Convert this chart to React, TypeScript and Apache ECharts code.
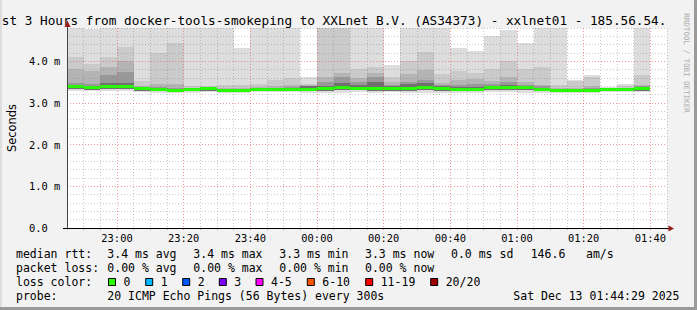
import React, { useEffect, useRef } from "react";
import * as echarts from "echarts";

// ---- data (ms) ----
const times = [
  "22:45", "22:50", "22:55", "23:00", "23:05", "23:10", "23:15", "23:20", "23:25", "23:30",
  "23:35", "23:40", "23:45", "23:50", "23:55", "00:00", "00:05", "00:10", "00:15", "00:20",
  "00:25", "00:30", "00:35", "00:40", "00:45", "00:50", "00:55", "01:00", "01:05", "01:10",
  "01:15", "01:20", "01:25", "01:30", "01:35",
];
const rttMax = [5.5, 4.78, 5.5, 5.5, 5.5, 5.5, 5.5, 5.5, 5.5, 5.5, 4.32, 5.5, 5.5, 5.5, 3.62, 5.5, 5.5, 5.5, 5.5, 3.9, 5.5, 5.5, 5.5, 4.32, 4.24, 4.61, 4.75, 4.44, 5.5, 5.5, 3.55, 3.66, 3.38, 3.46, 5.5];
const smoke2 = [4.11, 3.94, 4.11, 4.35, 3.52, 4.2, 4.44, 3.4, 3.42, 3.44, 3.44, 3.46, 3.54, 3.59, 3.46, 5.5, 5.5, 3.82, 3.86, 3.62, 4.0, 4.23, 3.7, 3.77, 3.72, 3.82, 4.0, 3.82, 3.86, 3.44, 3.53, 3.62, 3.36, 3.4, 3.66];
const smoke3 = [3.82, 3.78, 3.87, 4.02, 3.42, 3.45, 3.46, 3.37, 3.38, 3.36, 3.37, 3.38, 3.42, 3.44, 3.44, 3.62, 3.72, 3.6, 3.72, 3.5, 3.69, 3.79, 3.48, 3.54, 3.58, 3.52, 3.62, 3.5, 3.44, 3.36, 3.36, 3.4, 3.35, 3.36, 3.44];
const smoke4 = [3.47, 3.45, 3.66, 3.75, 3.39, 3.38, 3.36, 3.35, 3.36, 3.33, 3.34, 3.35, 3.37, 3.38, 3.42, 3.5, 3.62, 3.5, 3.62, 3.44, 3.51, 3.56, 3.43, 3.44, 3.45, 3.45, 3.51, 3.44, 3.4, 3.34, 3.34, 3.35, 3.34, 3.34, 3.4];
const smoke5 = [3.44, 3.41, 3.47, 3.48, 3.37, 3.35, 3.33, 3.33, 3.35, 3.31, 3.32, 3.33, 3.34, 3.35, 3.4, 3.42, 3.47, 3.44, 3.5, 3.4, 3.45, 3.48, 3.4, 3.38, 3.38, 3.41, 3.44, 3.41, 3.37, 3.32, 3.32, 3.33, 3.33, 3.33, 3.37];
const medianRtt = [3.39, 3.37, 3.4, 3.4, 3.35, 3.33, 3.31, 3.32, 3.34, 3.3, 3.31, 3.32, 3.33, 3.33, 3.33, 3.34, 3.37, 3.36, 3.35, 3.34, 3.35, 3.37, 3.36, 3.32, 3.32, 3.37, 3.37, 3.37, 3.33, 3.3, 3.3, 3.3, 3.32, 3.32, 3.35];
const smokeLowInner = [3.33, 3.32, 3.34, 3.34, 3.3, 3.29, 3.28, 3.29, 3.3, 3.27, 3.28, 3.29, 3.29, 3.29, 3.29, 3.29, 3.31, 3.31, 3.3, 3.29, 3.3, 3.31, 3.3, 3.28, 3.28, 3.31, 3.31, 3.31, 3.28, 3.27, 3.27, 3.27, 3.29, 3.29, 3.3];
const rttMin = [3.28, 3.29, 3.28, 3.29, 3.27, 3.24, 3.23, 3.25, 3.26, 3.24, 3.25, 3.26, 3.26, 3.26, 3.25, 3.24, 3.25, 3.26, 3.25, 3.26, 3.24, 3.25, 3.25, 3.23, 3.23, 3.26, 3.26, 3.25, 3.24, 3.24, 3.25, 3.25, 3.27, 3.27, 3.26];
const stepMinutes = 5;

const titleText = "st 3 Hours from docker-tools-smokeping to XXLnet B.V. (AS34373) - xxlnet01 - 185.56.54.";
const yTickLabels = ["0.0", "1.0 m", "2.0 m", "3.0 m", "4.0 m"];
const medianStats = ["median rtt:", "3.4 ms avg", "3.4 ms max", "3.3 ms min", "3.3 ms now", "0.0 ms sd", "146.6", "am/s"];
const lossStats = ["packet loss:", "0.00 % avg", "0.00 % max", "0.00 % min", "0.00 % now"];
const lossLabels = ["0", "1", "2", "3", "4-5", "6-10", "11-19", "20/20"];
const lossColors = ["#26ff00", "#00b8ff", "#0059ff", "#7e00ff", "#ff00ff", "#ff5500", "#ff0000", "#a10000"];
const probeText = ["probe:", "20 ICMP Echo Pings (56 Bytes) every 300s", "Sat Dec 13 01:44:29 2025"];

// ---- layout / style ----
const MONO = "DejaVu Sans Mono";
const statX = [16, 107.3, 193.3, 279.3, 365, 451, 530.7, 586];
const boxX = [108.5, 145.7, 182.7, 219.3, 256, 307.3, 365.7, 430.7];
const rowY = [254.3, 268.3, 282.3, 296.3];
const bandColors = ["#dddddd", "#cacaca", "#b4b4b4", "#999999", "#707070"];

const toMin = (t: string) => {
  const [h, m] = t.split(":").map(Number);
  return (h >= 12 ? h - 22 : h + 2) * 60 + m; // minutes since 22:00
};
const fmtMin = (v: number) => {
  const h = (22 + Math.floor(v / 60)) % 24;
  const m = v % 60;
  return String(h).padStart(2, "0") + ":" + String(m).padStart(2, "0");
};

export default function App() {
  const ref = useRef<HTMLDivElement>(null);
  useEffect(() => {
    if (!ref.current) return;
    const chart = echarts.init(ref.current, undefined, { renderer: "svg" });
    const data = times.map((t, i) => [
      toMin(t), toMin(t) + stepMinutes,
      rttMin[i], smokeLowInner[i],
      rttMax[i], smoke2[i], smoke3[i], smoke4[i], smoke5[i],
      medianRtt[i],
    ]);

    const texts: any[] = [];
    const mk = (text: string, x: number, y: number, extra: any = {}) => ({
      type: "text", x, y, z: 20,
      style: { text, fontFamily: MONO, fontSize: 11.5, fill: "#000", align: "left", verticalAlign: "middle", ...extra },
    });
    medianStats.forEach((s, i) => texts.push(mk(s, statX[i], rowY[0])));
    lossStats.forEach((s, i) => texts.push(mk(s, statX[i], rowY[1])));
    texts.push(mk("loss color:", statX[0], rowY[2]));
    lossLabels.forEach((s, i) => {
      texts.push({
        type: "rect", z: 20,
        shape: { x: boxX[i], y: rowY[2] - 3.8, width: 7, height: 7 },
        style: { fill: lossColors[i], stroke: "#000", lineWidth: 1 },
      });
      texts.push(mk(s, boxX[i] + 15, rowY[2]));
    });
    texts.push(mk(probeText[0], statX[0], rowY[3]));
    texts.push(mk(probeText[1], statX[1], rowY[3]));
    texts.push(mk(probeText[2], 513.3, rowY[3]));

    chart.setOption({
      animation: false,
      backgroundColor: "#f2f2f2",
      grid: {
        left: 67, top: 28, width: 600, height: 200, show: true, backgroundColor: "#ffffff", borderWidth: 0,
        containLabel: false, outerBoundsMode: "none",
      },
      xAxis: {
        type: "value", min: 45, max: 225, interval: 5, z: 5,
        axisLine: { show: false },
        axisTick: { show: true, length: 2, lineStyle: { color: "rgba(190,120,120,0.7)" } },
        axisLabel: {
          margin: 5, fontFamily: MONO, fontSize: 10.4, color: "#000",
          formatter: (v: number) => (v % 20 === 0 ? fmtMin(v) : ""),
        },
        splitLine: {
          show: true,
          lineStyle: {
            type: [1, 2], width: 1,
            color: ["rgba(120,120,120,0.4)", "rgba(120,120,120,0.4)", "rgba(120,120,120,0.4)", "rgba(235,70,70,0.55)"],
          },
        },
      },
      yAxis: {
        type: "value", min: 0, max: 4.8, interval: 0.2, z: 5,
        name: "Seconds", nameLocation: "middle", nameGap: 50, nameRotate: 90,
        nameTextStyle: { fontFamily: "DejaVu Sans", fontSize: 11.4, color: "#000" },
        axisLine: { show: false },
        axisTick: { show: false },
        axisLabel: {
          margin: 38, align: "left", fontFamily: MONO, fontSize: 10.4, color: "#000",
          formatter: (v: number) => {
            const r = Math.round(v);
            return Math.abs(v - r) < 1e-6 && r < yTickLabels.length ? yTickLabels[r] : "";
          },
        },
        splitLine: {
          show: true,
          lineStyle: {
            type: [1, 2], width: 1,
            color: ["rgba(235,70,70,0.55)", "rgba(120,120,120,0.4)", "rgba(120,120,120,0.4)", "rgba(120,120,120,0.4)", "rgba(120,120,120,0.4)"],
          },
        },
      },
      series: [
        {
          type: "custom", clip: true, z: 2,
          data,
          encode: { x: [0, 1], y: [2, 4] },
          renderItem: (params: any, api: any) => {
            const x0 = api.value(0), x1 = api.value(1);
            const children: any[] = [];
            for (let k = 0; k < 5; k++) {
              const hi = api.value(4 + k);
              const lo = k === 0 ? api.value(2) : api.value(3);
              const p0 = api.coord([x0, hi]);
              const p1 = api.coord([x1, lo]);
              const xa = Math.round(p0[0]), xb = Math.round(p1[0]);
              const ya = Math.round(p0[1]), yb = Math.round(p1[1]);
              if (yb - ya <= 0) continue;
              children.push({ type: "rect", shape: { x: xa, y: ya, width: xb - xa, height: yb - ya }, style: { fill: bandColors[k] } });
            }
            const pm = api.coord([x0, api.value(9)]);
            const pe = api.coord([x1, api.value(9)]);
            const xa = Math.round(pm[0]), xb = Math.round(pe[0]);
            children.push({ type: "rect", shape: { x: xa, y: Math.round(pm[1] - 1.5), width: xb - xa, height: 3 }, style: { fill: lossColors[0] } });
            return { type: "group", children };
          },
        },
      ],
      graphic: [
        { type: "rect", z: -10, shape: { x: 0, y: 307, width: 697, height: 3 }, style: { fill: "#9a9a9a" } },
        { type: "rect", z: -10, shape: { x: 694, y: 0, width: 3, height: 310 }, style: { fill: "#9a9a9a" } },
        { type: "rect", z: -10, shape: { x: 0, y: 0, width: 2, height: 307 }, style: { fill: "#dedede" } },
        // axes
        { type: "line", z: 30, shape: { x1: 67.5, y1: 228.5, x2: 67.5, y2: 26 }, style: { stroke: "#444", lineWidth: 1 } },
        { type: "line", z: 30, shape: { x1: 63, y1: 228.5, x2: 669, y2: 228.5 }, style: { stroke: "#000", lineWidth: 1 } },
        { type: "polygon", z: 31, shape: { points: [[67.5, 20.5], [64.5, 27], [70.5, 27]] }, style: { fill: "#9b1a1a" } },
        { type: "polygon", z: 31, shape: { points: [[674, 228.5], [668.5, 225.5], [668.5, 231.5]] }, style: { fill: "#9b1a1a" } },
        // title
        {
          type: "text", x: 1.8, y: 20.5, z: 20,
          style: { text: titleText, fontFamily: MONO, fontSize: 12.7, fill: "#000", align: "left", verticalAlign: "middle" },
        },
        // watermark
        {
          type: "text", x: 686, y: 63, z: 20, rotation: -Math.PI / 2,
          style: { text: "RRDTOOL / TOBI OETIKER", fontFamily: MONO, fontSize: 7.5, fill: "#aaaaaa", align: "center", verticalAlign: "middle" },
        },
        ...texts,
      ],
    });
    return () => chart.dispose();
  }, []);
  return <div ref={ref} style={{ position: "fixed", left: 0, top: 0, width: 697, height: 310 }} />;
}
